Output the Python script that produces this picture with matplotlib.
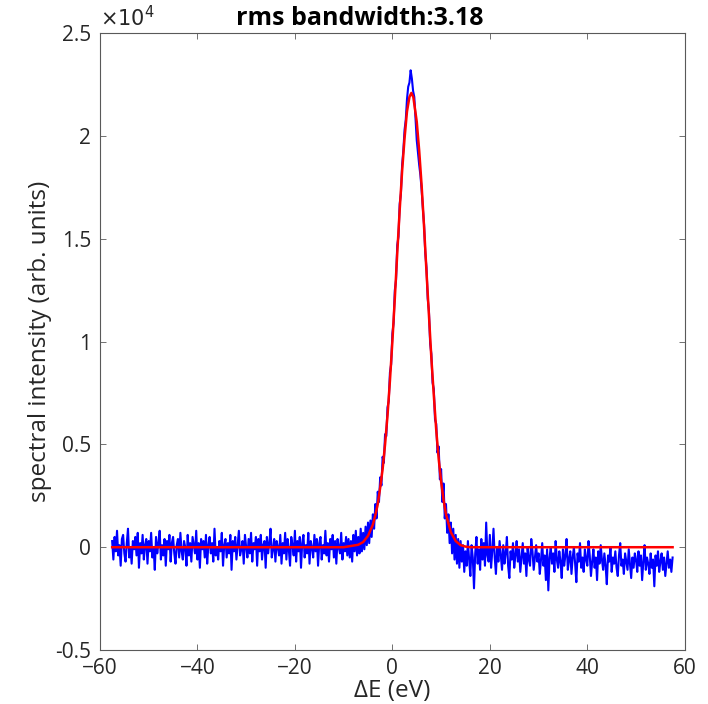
import numpy as np
import matplotlib
matplotlib.use("Agg")
import matplotlib.pyplot as plt
from matplotlib.ticker import FuncFormatter

plt.rcParams['font.family'] = ['Open Sans', 'DejaVu Sans']

# measured spectrum, values in units of 100 counts, sampled every 0.25 eV from -57.5 eV
x_start = -57.5
x_step = 0.25

# baseline left of the peak (-57.5 .. -9.25 eV)
spec_left = [
    3, -6, 5, -2, 8, -4, 1, -9, 4, 6, -3, -7, 2, 9, -5, 0, -8, 3, -1, 5,
    -4, 7, -10, 2, -3, 6, -6, 1, 4, -8, 3, -2, 7, -5, 0, -11, 5, -3, 2, 8,
    -6, 1, -4, 4, -9, 3, -1, 6, -7, 2, 5, -3, -8, 1, 4, -5, 7, -2, -6, 3,
    0, -9, 6, -4, 2, -7, 5, 1, -3, 8, -6, 2, -10, 4, -1, 3, -5, 6, -8, 1,
    5, -3, 2, -7, 9, -4, 0, -6, 3, -2, 7, -9, 1, 4, -5, 2, -3, 6, -11, 3,
    -2, 5, -6, 1, 8, -4, -1, 3, -8, 6, 0, -5, 4, -3, 7, -7, 2, -1, 5, -9,
    4, -2, 6, -6, 1, 3, -10, 5, -3, 2, 9, -5, -1, 4, -7, 3, 0, -4, 6, -8,
    2, -3, 7, -6, 4, -1, -9, 5, 1, -4, 8, -7, 3, -2, 5, -10, 2, 6, -5, 1,
    -3, 7, -8, 3, 0, -5, 6, -2, 4, -9, 2, 5, -6, 1, -3, 8, -4, 2, -7, 4,
    -1, 6, -5, 3, -8, 4, 0, -3, 7, -6, 2, -2, 5, -4,
]

# peak region (-9.0 .. 14.75 eV)
spec_peak = [
    4, -5, 3, -7, 6, -2, 8, -4, 5, -3, 9, -2, 7, -1, 10, 1, 12, 2, 13, 5,
    16, 9, 21, 14, 27, 22, 34, 30, 44, 41, 55, 54, 68, 71, 85, 89, 104, 109, 125, 130,
    147, 151, 167, 172, 186, 193, 203, 208, 218, 224, 226, 232, 228, 222, 219, 208, 198, 192, 186, 181,
    174, 165, 157, 143, 136, 121, 115, 99, 94, 80, 77, 62, 60, 46, 49, 33, 38, 22, 31, 14,
    21, 7, 16, 2, 12, -3, 9, -6, 6, -8, 4, -10, 3, -7, 1, -12,
]

# baseline right of the peak (15.0 .. 57.5 eV)
spec_right = [
    -2, -9, 3, -6, -14, 1, -5, -20, -3, 5, -8, -1, -11, 4, -6, 2, -9, 12, -4, -7,
    6, -10, -2, 9, -5, -13, 0, -7, 3, -4, -11, 1, -8, -3, 5, -9, -15, -2, -6, 2,
    -10, -4, 3, -7, -1, -12, -5, 2, -8, -3, -14, 0, -6, -9, 4, -2, -11, -5, 1, -7,
    -3, -13, -6, 2, -9, -4, -16, -1, -21, -5, 0, -8, -3, -12, 3, -6, -10, -2, -7, -15,
    -1, -9, -4, 4, -11, -6, -2, -13, -5, 0, -8, -17, -3, -7, 2, -10, -5, -12, -1, -6,
    -9, 3, -4, -14, -7, -1, -10, -5, -16, -2, -8, 1, -6, -11, -3, -9, -18, -4, -7, 0,
    -12, -5, -8, -2, -10, -14, -4, 2, -9, -6, -13, -3, -7, -11, -1, -8, -15, -5, -10, -3,
    -6, -12, -2, -9, -4, -16, -7, 1, -11, -5, -8, -13, -3, -10, -6, -19, -4, -9, -2, -12,
    -7, -3, -11, -5, -14, -8, -2, -10, -6, -12, -5,
]

# fitted curve (eV, units of 100 counts)
fit_x = [-57.5, -10, -9, -8, -7, -6, -5, -4, -3.5, -3, -2.5, -2, -1.5, -1, -0.5, 0, 0.5,
         1, 1.5, 2, 2.5, 3, 3.5, 3.9, 4.3, 5, 5.5, 6, 6.5, 7, 7.5, 8, 8.5, 9, 9.5,
         10, 10.5, 11, 12, 13, 14, 15, 16, 57.5]
fit_y = [0, 0, 0.4, 0.8, 1.2, 2.5, 5.5, 11, 15.5, 21, 29, 38, 50, 64, 81, 100, 121,
         143, 164, 183, 199, 212, 219, 221, 219, 207, 193, 176, 156, 134, 113, 92, 74, 57, 43,
         32, 23, 16, 7.3, 3, 1, 0.3, 0, 0]

spec = np.array(spec_left + spec_peak + spec_right) * 100.0
energy = x_start + x_step * np.arange(len(spec))

fig = plt.figure(figsize=(7.08, 7.04), dpi=100)
ax = fig.add_axes([0.1412, 0.0767, 0.826, 0.876])

ax.plot(energy, spec, color=(0, 0, 1), lw=1.5)
ax.plot(fit_x, np.array(fit_y) * 100.0, color=(1, 0, 0), lw=1.8)

ax.set_xlim(-60, 60)
ax.set_ylim(-5000, 25000)
ax.set_xticks(np.arange(-60, 61, 20))
ax.set_yticks(np.arange(-5000, 25001, 5000))
ax.yaxis.set_major_formatter(FuncFormatter(lambda v, p: f"{v / 1e4:g}"))

for s in ax.spines.values():
    s.set_color('0.35')
    s.set_linewidth(0.8)
ax.tick_params(direction='in', top=True, right=True, length=4, width=0.6,
               colors='0.35', labelcolor='0.15', labelsize=15)
ax.tick_params(axis='x', pad=6)
ax.tick_params(axis='y', pad=6.5)

ax.set_xlabel('ΔE (eV)', fontsize=17.5, color='0.15', labelpad=0)
ax.set_ylabel('spectral intensity (arb. units)', fontsize=17.5, color='0.15', labelpad=2)
# title sits left of the axes centre in the original
ax.text(0.444, 1.003, 'rms bandwidth:3.18', transform=ax.transAxes, ha='center',
        va='bottom', fontsize=18, fontweight='bold')
ax.text(0.0, 1.004, r'$\times10^{4}$', transform=ax.transAxes, ha='left', va='bottom',
        fontsize=15, color='0.15')

fig.savefig('out.png', dpi=100)
